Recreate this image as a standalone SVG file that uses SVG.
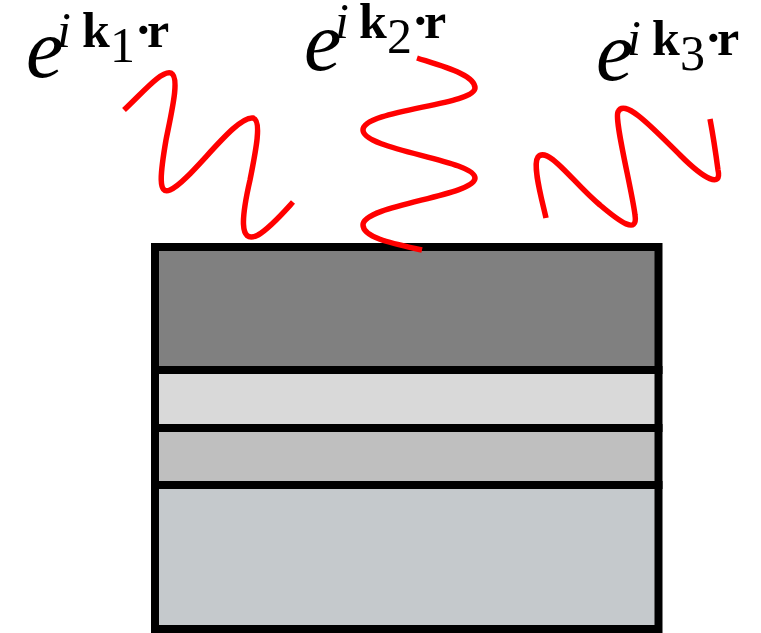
<svg xmlns="http://www.w3.org/2000/svg" width="761" height="633" viewBox="0 0 761 633">
<style>
.wave{fill:none;stroke:#ff0000;stroke-width:5.5;stroke-linecap:butt;stroke-linejoin:round}
.layer{stroke:#000;stroke-width:8}
</style>
<rect width="761" height="633" fill="#fff"/>
<g id="stack">
<rect id="layer1" class="layer" x="155" y="247" width="503.5" height="123" fill="#808080"/>
<rect id="layer2" class="layer" x="155" y="370" width="503.5" height="58" fill="#d9d9d9"/>
<rect id="layer3" class="layer" x="155" y="428" width="503.5" height="57" fill="#bfbfbf"/>
<rect id="layer4" class="layer" x="155" y="485" width="503.5" height="144" fill="#c5c9cc"/>
</g>
<g id="waves">
<path id="wave1" class="wave" d="M124,110 C145,90 162,70 171,73 C180,77 172,110 166,140 C160,175 158,195 170,190 C190,182 235,115 253,118 C262,120 256,150 250,180 C242,215 238,245 258,235 C270,228 283,213 293,202"/>
<path id="wave2" class="wave" d="M417,58 C445,67 475,75 475,88 C475,105 363,110 363,130 C363,150 475,160 475,178 C475,196 363,205 363,225 C363,238 395,244 422,250"/>
<path id="wave3" class="wave" d="M546,218 C542,200 532,165 538,157 C548,145 575,185 600,205 C620,222 638,235 635,215 C632,190 614,120 618,112 C624,98 650,125 680,155 C705,180 722,188 718,170 C716,155 713,135 710,119"/>
</g>
<g id="label1" font-family="Liberation Serif, serif" font-size="50">
<text x="26" y="77" font-size="84" font-style="italic">e</text>
<text x="57" y="47" font-style="italic">i</text>
<text x="82" y="47" font-weight="bold">k</text>
<text x="110" y="62">1</text>
<text x="135" y="47" font-weight="bold">&#183;</text>
<text x="147" y="47" font-weight="bold">r</text>
</g>
<g id="label2" font-family="Liberation Serif, serif" font-size="50">
<text x="304" y="70" font-size="84" font-style="italic">e</text>
<text x="335" y="38" font-style="italic">i</text>
<text x="359" y="38" font-weight="bold">k</text>
<text x="387" y="53">2</text>
<text x="412" y="38" font-weight="bold">&#183;</text>
<text x="424" y="38" font-weight="bold">r</text>
</g>
<g id="label3" font-family="Liberation Serif, serif" font-size="50">
<text x="596" y="80" font-size="84" font-style="italic">e</text>
<text x="627" y="55" font-style="italic">i</text>
<text x="652" y="55" font-weight="bold">k</text>
<text x="680" y="70">3</text>
<text x="705" y="55" font-weight="bold">&#183;</text>
<text x="717" y="55" font-weight="bold">r</text>
</g>
</svg>
